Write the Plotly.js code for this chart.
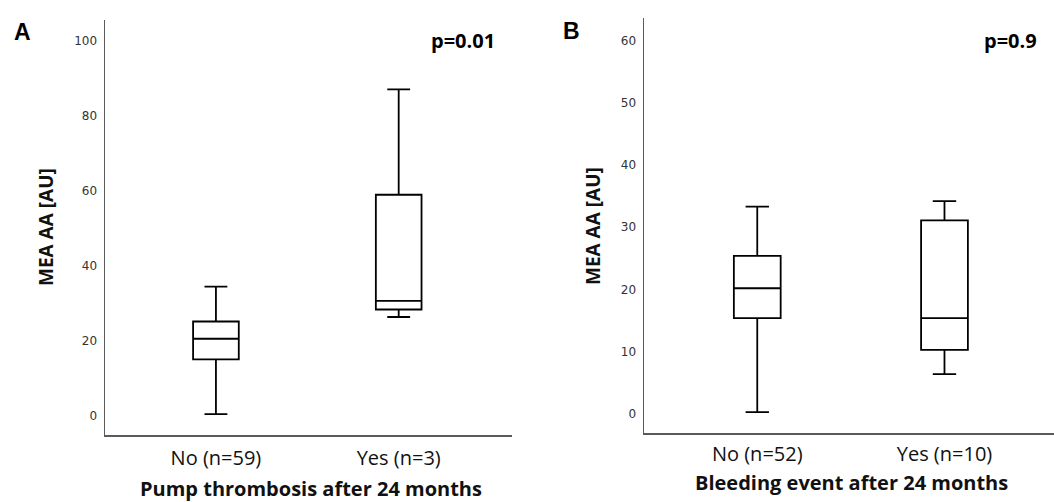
<!DOCTYPE html>
<html>
<head>
<meta charset="utf-8">
<script src="https://cdn.plot.ly/plotly-3.0.1.min.js"></script>
<style>
html,body{margin:0;padding:0;background:#fff;}
#chart{width:1054px;height:502px;}
</style>
</head>
<body>
<div id="chart"></div>
<script>
// ---- Data ----
// Panel A: Pump thrombosis after 24 months
const catsA = ['No (n=59)', 'Yes (n=3)'];
const lowA = [0.5, 26.4];
const q1A = [15.1, 28.4];
const medA = [20.6, 30.7];
const q3A = [25.2, 59.0];
const highA = [34.5, 87.1];
const pA = 'p=0.01';

// Panel B: Bleeding event after 24 months
const catsB = ['No (n=52)', 'Yes (n=10)'];
const lowB = [0.3, 6.4];
const q1B = [15.4, 10.3];
const medB = [20.2, 15.4];
const q3B = [25.4, 31.1];
const highB = [33.3, 34.2];
const pB = 'p=0.9';

const yTitle = 'MEA AA [AU]';
const xTitleA = 'Pump thrombosis after 24 months';
const xTitleB = 'Bleeding event after 24 months';

// ---- Layout helpers ----
const W = 1054, H = 502;
const px = x => x / W;
const py = y => 1 - y / H;

const boxStyle = {
  type: 'box',
  width: 0.25,
  whiskerwidth: 0.5,
  fillcolor: '#ffffff',
  line: {color: '#000000', width: 1.8},
  boxpoints: false,
  hoverinfo: 'skip',
  showlegend: false
};

const traces = [
  Object.assign({}, boxStyle, {
    x: catsA, q1: q1A, median: medA, q3: q3A,
    lowerfence: lowA, upperfence: highA,
    xaxis: 'x', yaxis: 'y'
  }),
  Object.assign({}, boxStyle, {
    x: catsB, q1: q1B, median: medB, q3: q3B,
    lowerfence: lowB, upperfence: highB,
    xaxis: 'x2', yaxis: 'y2'
  })
];

const axisLine = {showline: true, linecolor: '#5a5a5a', linewidth: 1.5,
  ticks: '', showgrid: false, zeroline: false, fixedrange: true};
const xTickFont = {family: 'Open Sans, sans-serif', size: 20, color: '#111'};
const yTickFont = {family: 'DejaVu Sans, sans-serif', size: 12, color: '#333'};

const letterFont = {family: 'Liberation Sans, Arial, sans-serif', size: 23, color: '#000', weight: 'bold'};
const pFont = {family: 'Open Sans, sans-serif', size: 20, color: '#000', weight: 'bold'};
const titleFont = {family: 'Open Sans, sans-serif', size: 20, color: '#111', weight: 'bold'};
const yTitleFont = {family: 'Open Sans, sans-serif', size: 19, color: '#111', weight: 'bold'};

const layout = {
  width: W, height: H,
  margin: {l: 0, r: 0, t: 0, b: 0},
  paper_bgcolor: '#ffffff', plot_bgcolor: '#ffffff',
  showlegend: false,
  xaxis: Object.assign({}, axisLine, {
    domain: [px(105), px(512)], anchor: 'y', type: 'category',
    categoryarray: catsA, range: [-0.607, 1.62], tickfont: xTickFont,
    ticklabelstandoff: 4
  }),
  yaxis: Object.assign({}, axisLine, {
    domain: [py(435), py(20)], anchor: 'x', range: [-5.07, 105.6],
    tickmode: 'linear', tick0: 0, dtick: 20, tickfont: yTickFont,
    ticklabelstandoff: 4
  }),
  xaxis2: Object.assign({}, axisLine, {
    domain: [px(644), 1], anchor: 'y2', type: 'category',
    categoryarray: catsB, range: [-0.605, 1.585], tickfont: xTickFont,
    ticklabelstandoff: 2
  }),
  yaxis2: Object.assign({}, axisLine, {
    domain: [py(433.3), py(18)], anchor: 'x2', range: [-3.1, 63.6],
    tickmode: 'linear', tick0: 0, dtick: 10, tickfont: yTickFont,
    ticklabelstandoff: 4
  }),
  annotations: [
    {text: 'A', x: px(22.5), y: py(32.5), xref: 'paper', yref: 'paper',
     xanchor: 'center', yanchor: 'middle', showarrow: false, font: letterFont},
    {text: 'B', x: px(571), y: py(31.5), xref: 'paper', yref: 'paper',
     xanchor: 'center', yanchor: 'middle', showarrow: false, font: letterFont},
    {text: pA, x: px(497), y: py(40), xref: 'paper', yref: 'paper',
     xanchor: 'right', yanchor: 'middle', showarrow: false, font: pFont},
    {text: pB, x: px(1039), y: py(40), xref: 'paper', yref: 'paper',
     xanchor: 'right', yanchor: 'middle', showarrow: false, font: pFont},
    {text: yTitle, x: px(46), y: py(227), xref: 'paper', yref: 'paper',
     xanchor: 'center', yanchor: 'middle', textangle: -90, showarrow: false, font: yTitleFont},
    {text: yTitle, x: px(593), y: py(226), xref: 'paper', yref: 'paper',
     xanchor: 'center', yanchor: 'middle', textangle: -90, showarrow: false, font: yTitleFont},
    {text: xTitleA, x: px(311), y: py(488), xref: 'paper', yref: 'paper',
     xanchor: 'center', yanchor: 'middle', showarrow: false, font: titleFont},
    {text: xTitleB, x: px(851), y: py(482), xref: 'paper', yref: 'paper',
     xanchor: 'center', yanchor: 'middle', showarrow: false, font: titleFont}
  ]
};

Plotly.newPlot('chart', traces, layout, {displayModeBar: false, staticPlot: true});
</script>
</body>
</html>
